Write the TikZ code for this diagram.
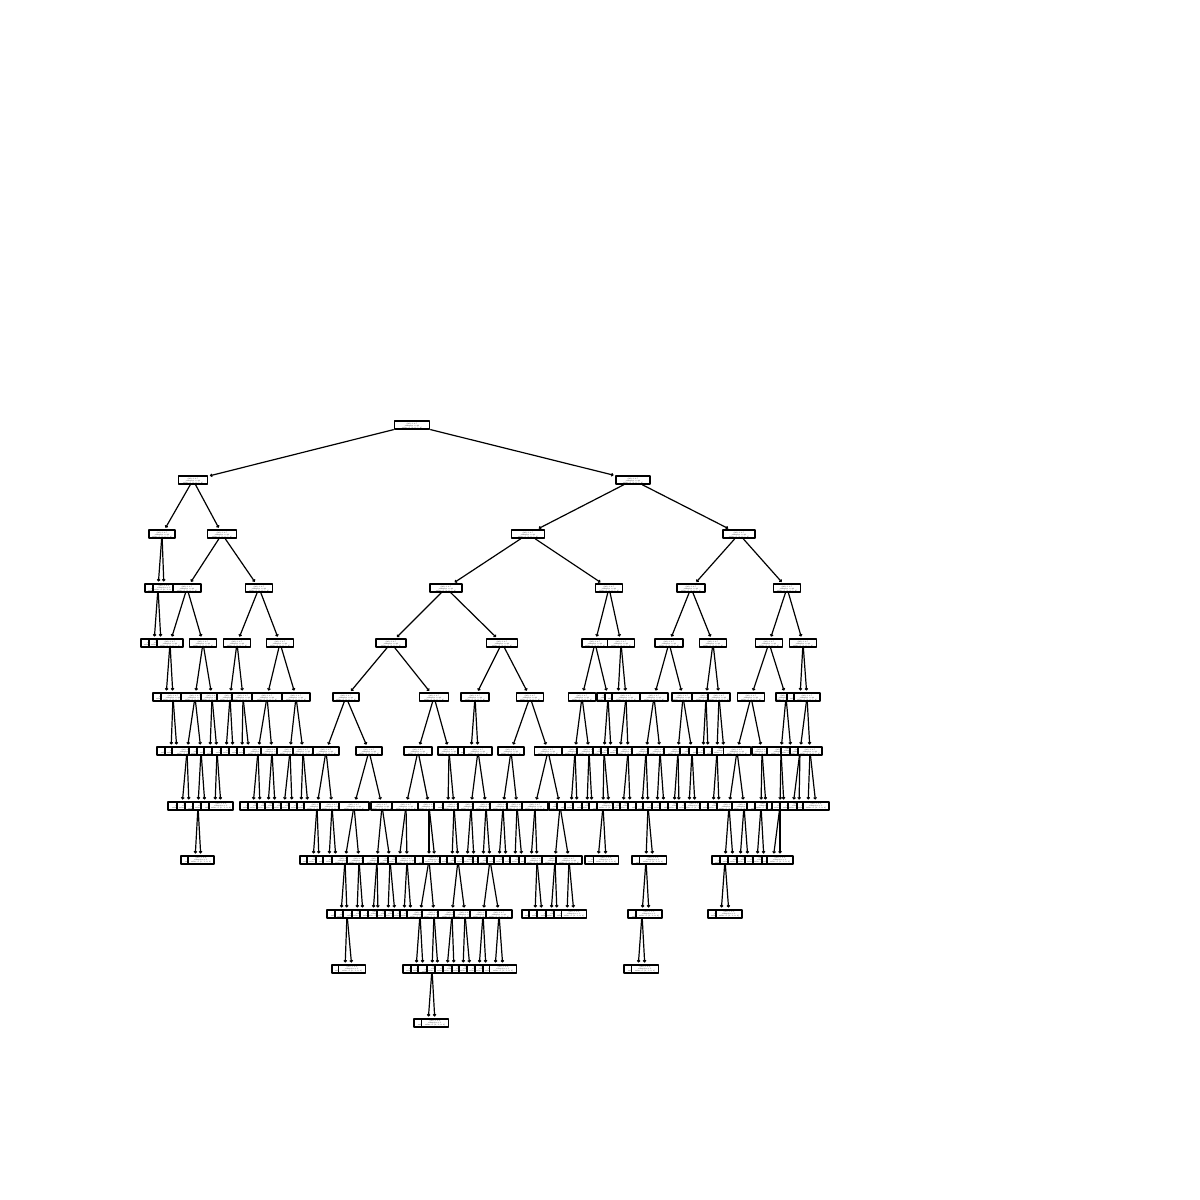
\documentclass[tikz,border=0pt]{standalone}
\usepackage{fontspec}
\usetikzlibrary{arrows.meta}
\newcommand{\splittxt}{X[2] <= 0.5\\gini = 0.5\\samples = 20\\value = [3, 0, 5, 2]}
\newcommand{\leaftxt}{gini = 0.0\\samples = 1\\value = [0, 1, 0, 0]}
\tikzset{
  tbox/.style={draw, fill=white, line width=0.75bp, inner sep=0pt, minimum height=4bp,
    minimum width=#1*0.5bp, align=center, font=\fontsize{0.9}{0.98}\selectfont},
  tbox/.default=26,
}
\begin{document}
\begin{tikzpicture}[x=0.5bp,y=-0.5bp,>={Straight Barb[length=0.7bp,width=1.4bp]},line width=0.6bp,shorten >=0.8bp,line join=bevel]
\useasboundingbox (0,0) rectangle (1200,1200);
%%
\node (node_0) at (412,425) [tbox=35] {\splittxt};
  \node (node_1) at (193,480) [tbox=29] {\splittxt};
  \node (node_2) at (162,534) [tbox=26] {\splittxt};
  \node (node_3) at (158,588) [tbox=26] {\splittxt};
  \node (node_4) at (154,643) [tbox=26] {\leaftxt};
  \node (node_5) at (161,643) [tbox=24] {\leaftxt};
  \node (node_6) at (164,588) [tbox=22] {\leaftxt};
  \node (node_7) at (222,534) [tbox=29] {\splittxt};
  \node (node_8) at (187,588) [tbox=28] {\splittxt};
  \node (node_9) at (170,643) [tbox=26] {\splittxt};
  \node (node_10) at (166,697) [tbox=26] {\leaftxt};
  \node (node_11) at (173,697) [tbox=24] {\splittxt};
  \node (node_12) at (171,751) [tbox=28] {\leaftxt};
  \node (node_13) at (177,751) [tbox=24] {\leaftxt};
  \node (node_14) at (203,643) [tbox=27] {\splittxt};
  \node (node_15) at (195,697) [tbox=28] {\splittxt};
  \node (node_16) at (187,751) [tbox=30] {\splittxt};
  \node (node_17) at (182,806) [tbox=28] {\leaftxt};
  \node (node_18) at (189,806) [tbox=24] {\leaftxt};
  \node (node_19) at (201,751) [tbox=24] {\splittxt};
  \node (node_20) at (198,806) [tbox=26] {\splittxt};
  \node (node_21) at (195,860) [tbox=28] {\leaftxt};
  \node (node_22) at (201,860) [tbox=26] {\leaftxt};
  \node (node_23) at (205,806) [tbox=24] {\leaftxt};
  \node (node_24) at (212,697) [tbox=22] {\splittxt};
  \node (node_25) at (210,751) [tbox=26] {\leaftxt};
  \node (node_26) at (217,751) [tbox=26] {\splittxt};
  \node (node_27) at (215,806) [tbox=28] {\leaftxt};
  \node (node_28) at (221,806) [tbox=24] {\leaftxt};
  \node (node_29) at (259,588) [tbox=27] {\splittxt};
  \node (node_30) at (237,643) [tbox=27] {\splittxt};
  \node (node_31) at (230,697) [tbox=26] {\splittxt};
  \node (node_32) at (226,751) [tbox=28] {\leaftxt};
  \node (node_33) at (233,751) [tbox=24] {\leaftxt};
  \node (node_34) at (243,697) [tbox=22] {\splittxt};
  \node (node_35) at (242,751) [tbox=26] {\leaftxt};
  \node (node_36) at (249,751) [tbox=24] {\leaftxt};
  \node (node_37) at (280,643) [tbox=27] {\splittxt};
  \node (node_38) at (267,697) [tbox=30] {\splittxt};
  \node (node_39) at (258,751) [tbox=28] {\splittxt};
  \node (node_40) at (253,806) [tbox=26] {\leaftxt};
  \node (node_41) at (260,806) [tbox=24] {\leaftxt};
  \node (node_42) at (272,751) [tbox=22] {\splittxt};
  \node (node_43) at (268,806) [tbox=22] {\leaftxt};
  \node (node_44) at (275,806) [tbox=20] {\leaftxt};
  \node (node_45) at (296,697) [tbox=28] {\splittxt};
  \node (node_46) at (290,751) [tbox=26] {\splittxt};
  \node (node_47) at (284,806) [tbox=22] {\leaftxt};
  \node (node_48) at (292,806) [tbox=22] {\leaftxt};
  \node (node_49) at (303,751) [tbox=20] {\splittxt};
  \node (node_50) at (301,806) [tbox=24] {\leaftxt};
  \node (node_51) at (308,806) [tbox=22] {\leaftxt};
  \node (node_52) at (633,480) [tbox=34] {\splittxt};
  \node (node_53) at (528,534) [tbox=33] {\splittxt};
  \node (node_54) at (446,588) [tbox=32] {\splittxt};
  \node (node_55) at (391,643) [tbox=30] {\splittxt};
  \node (node_56) at (346,697) [tbox=26] {\splittxt};
  \node (node_57) at (326,751) [tbox=26] {\splittxt};
  \node (node_58) at (317,806) [tbox=26] {\splittxt};
  \node (node_59) at (313,860) [tbox=26] {\leaftxt};
  \node (node_60) at (319,860) [tbox=24] {\leaftxt};
  \node (node_61) at (332,806) [tbox=24] {\splittxt};
  \node (node_62) at (329,860) [tbox=26] {\leaftxt};
  \node (node_63) at (336,860) [tbox=26] {\leaftxt};
  \node (node_64) at (369,751) [tbox=26] {\splittxt};
  \node (node_65) at (354,806) [tbox=30] {\splittxt};
  \node (node_66) at (345,860) [tbox=26] {\splittxt};
  \node (node_67) at (341,914) [tbox=28] {\leaftxt};
  \node (node_68) at (347,914) [tbox=24] {\splittxt};
  \node (node_69) at (345,969) [tbox=26] {\leaftxt};
  \node (node_70) at (352,969) [tbox=27] {\leaftxt};
  \node (node_71) at (359,860) [tbox=24] {\splittxt};
  \node (node_72) at (357,914) [tbox=28] {\leaftxt};
  \node (node_73) at (363,914) [tbox=22] {\leaftxt};
  \node (node_74) at (382,806) [tbox=22] {\splittxt};
  \node (node_75) at (377,860) [tbox=28] {\splittxt};
  \node (node_76) at (373,914) [tbox=26] {\leaftxt};
  \node (node_77) at (378,914) [tbox=20] {\leaftxt};
  \node (node_78) at (390,860) [tbox=24] {\splittxt};
  \node (node_79) at (388,914) [tbox=22] {\leaftxt};
  \node (node_80) at (395,914) [tbox=20] {\leaftxt};
  \node (node_81) at (434,697) [tbox=29] {\splittxt};
  \node (node_82) at (418,751) [tbox=28] {\splittxt};
  \node (node_83) at (406,806) [tbox=28] {\splittxt};
  \node (node_84) at (399,860) [tbox=22] {\leaftxt};
  \node (node_85) at (407,860) [tbox=22] {\splittxt};
  \node (node_86) at (404,914) [tbox=22] {\leaftxt};
  \node (node_87) at (411,914) [tbox=22] {\leaftxt};
  \node (node_88) at (429,806) [tbox=22] {\splittxt};
  \node (node_89) at (429,860) [tbox=28] {\splittxt};
  \node (node_90) at (420,914) [tbox=26] {\splittxt};
  \node (node_91) at (416,969) [tbox=26] {\leaftxt};
  \node (node_92) at (423,969) [tbox=24] {\leaftxt};
  \node (node_93) at (434,914) [tbox=24] {\splittxt};
  \node (node_94) at (432,969) [tbox=28] {\splittxt};
  \node (node_95) at (428,1023) [tbox=28] {\leaftxt};
  \node (node_96) at (435,1023) [tbox=27] {\leaftxt};
  \node (node_97) at (438,969) [tbox=22] {\leaftxt};
  \node (node_98) at (435,860) [tbox=24] {\leaftxt};
  \node (node_99) at (449,751) [tbox=22] {\splittxt};
  \node (node_100) at (448,806) [tbox=28] {\leaftxt};
  \node (node_101) at (454,806) [tbox=22] {\splittxt};
  \node (node_102) at (452,860) [tbox=24] {\leaftxt};
  \node (node_103) at (458,860) [tbox=22] {\splittxt};
  \node (node_104) at (452,914) [tbox=28] {\splittxt};
  \node (node_105) at (447,969) [tbox=24] {\leaftxt};
  \node (node_106) at (454,969) [tbox=22] {\leaftxt};
  \node (node_107) at (465,914) [tbox=22] {\splittxt};
  \node (node_108) at (463,969) [tbox=22] {\leaftxt};
  \node (node_109) at (470,969) [tbox=22] {\leaftxt};
  \node (node_110) at (502,643) [tbox=31] {\splittxt};
  \node (node_111) at (475,697) [tbox=28] {\splittxt};
  \node (node_112) at (471,751) [tbox=26] {\leaftxt};
  \node (node_113) at (478,751) [tbox=28] {\splittxt};
  \node (node_114) at (471,806) [tbox=26] {\splittxt};
  \node (node_115) at (467,860) [tbox=24] {\leaftxt};
  \node (node_116) at (474,860) [tbox=22] {\leaftxt};
  \node (node_117) at (486,806) [tbox=26] {\splittxt};
  \node (node_118) at (483,860) [tbox=20] {\leaftxt};
  \node (node_119) at (490,860) [tbox=24] {\splittxt};
  \node (node_120) at (483,914) [tbox=26] {\splittxt};
  \node (node_121) at (479,969) [tbox=24] {\leaftxt};
  \node (node_122) at (486,969) [tbox=22] {\leaftxt};
  \node (node_123) at (499,914) [tbox=26] {\splittxt};
  \node (node_124) at (495,969) [tbox=24] {\leaftxt};
  \node (node_125) at (503,969) [tbox=27] {\leaftxt};
  \node (node_126) at (530,697) [tbox=27] {\splittxt};
  \node (node_127) at (511,751) [tbox=26] {\splittxt};
  \node (node_128) at (503,806) [tbox=26] {\splittxt};
  \node (node_129) at (499,860) [tbox=24] {\leaftxt};
  \node (node_130) at (506,860) [tbox=24] {\leaftxt};
  \node (node_131) at (517,806) [tbox=20] {\splittxt};
  \node (node_132) at (515,860) [tbox=24] {\leaftxt};
  \node (node_133) at (522,860) [tbox=24] {\leaftxt};
  \node (node_134) at (548,751) [tbox=27] {\splittxt};
  \node (node_135) at (535,806) [tbox=26] {\splittxt};
  \node (node_136) at (531,860) [tbox=24] {\leaftxt};
  \node (node_137) at (537,860) [tbox=24] {\splittxt};
  \node (node_138) at (535,914) [tbox=26] {\leaftxt};
  \node (node_139) at (542,914) [tbox=26] {\leaftxt};
  \node (node_140) at (560,806) [tbox=22] {\splittxt};
  \node (node_141) at (555,860) [tbox=26] {\splittxt};
  \node (node_142) at (551,914) [tbox=28] {\leaftxt};
  \node (node_143) at (557,914) [tbox=22] {\leaftxt};
  \node (node_144) at (569,860) [tbox=26] {\splittxt};
  \node (node_145) at (567,914) [tbox=26] {\leaftxt};
  \node (node_146) at (574,914) [tbox=25] {\leaftxt};
  \node (node_147) at (609,588) [tbox=27] {\splittxt};
  \node (node_148) at (595,643) [tbox=26] {\splittxt};
  \node (node_149) at (582,697) [tbox=27] {\splittxt};
  \node (node_150) at (575,751) [tbox=26] {\splittxt};
  \node (node_151) at (571,806) [tbox=28] {\leaftxt};
  \node (node_152) at (577,806) [tbox=24] {\leaftxt};
  \node (node_153) at (589,751) [tbox=24] {\splittxt};
  \node (node_154) at (587,806) [tbox=28] {\leaftxt};
  \node (node_155) at (592,806) [tbox=20] {\leaftxt};
  \node (node_156) at (608,697) [tbox=22] {\splittxt};
  \node (node_157) at (604,751) [tbox=22] {\splittxt};
  \node (node_158) at (603,806) [tbox=28] {\splittxt};
  \node (node_159) at (598,860) [tbox=26] {\leaftxt};
  \node (node_160) at (606,860) [tbox=25] {\leaftxt};
  \node (node_161) at (609,806) [tbox=24] {\leaftxt};
  \node (node_162) at (611,751) [tbox=18] {\leaftxt};
  \node (node_163) at (621,643) [tbox=27] {\splittxt};
  \node (node_164) at (618,697) [tbox=26] {\leaftxt};
  \node (node_165) at (626,697) [tbox=28] {\splittxt};
  \node (node_166) at (620,751) [tbox=24] {\leaftxt};
  \node (node_167) at (628,751) [tbox=22] {\splittxt};
  \node (node_168) at (623,806) [tbox=20] {\leaftxt};
  \node (node_169) at (630,806) [tbox=20] {\leaftxt};
  \node (node_170) at (739,534) [tbox=32] {\splittxt};
  \node (node_171) at (691,588) [tbox=28] {\splittxt};
  \node (node_172) at (669,643) [tbox=28] {\splittxt};
  \node (node_173) at (654,697) [tbox=28] {\splittxt};
  \node (node_174) at (646,751) [tbox=28] {\splittxt};
  \node (node_175) at (642,806) [tbox=28] {\leaftxt};
  \node (node_176) at (648,806) [tbox=24] {\splittxt};
  \node (node_177) at (646,860) [tbox=28] {\splittxt};
  \node (node_178) at (642,914) [tbox=28] {\splittxt};
  \node (node_179) at (638,969) [tbox=28] {\leaftxt};
  \node (node_180) at (645,969) [tbox=27] {\leaftxt};
  \node (node_181) at (649,914) [tbox=26] {\leaftxt};
  \node (node_182) at (653,860) [tbox=27] {\leaftxt};
  \node (node_183) at (660,751) [tbox=24] {\splittxt};
  \node (node_184) at (657,806) [tbox=28] {\leaftxt};
  \node (node_185) at (664,806) [tbox=24] {\leaftxt};
  \node (node_186) at (683,697) [tbox=22] {\splittxt};
  \node (node_187) at (678,751) [tbox=28] {\splittxt};
  \node (node_188) at (674,806) [tbox=28] {\leaftxt};
  \node (node_189) at (679,806) [tbox=22] {\leaftxt};
  \node (node_190) at (692,751) [tbox=24] {\splittxt};
  \node (node_191) at (689,806) [tbox=24] {\leaftxt};
  \node (node_192) at (695,806) [tbox=20] {\leaftxt};
  \node (node_193) at (713,643) [tbox=27] {\splittxt};
  \node (node_194) at (706,697) [tbox=28] {\splittxt};
  \node (node_195) at (703,751) [tbox=28] {\leaftxt};
  \node (node_196) at (708,751) [tbox=22] {\leaftxt};
  \node (node_197) at (719,697) [tbox=22] {\splittxt};
  \node (node_198) at (717,751) [tbox=26] {\splittxt};
  \node (node_199) at (713,806) [tbox=26] {\leaftxt};
  \node (node_200) at (719,806) [tbox=22] {\leaftxt};
  \node (node_201) at (724,751) [tbox=24] {\leaftxt};
  \node (node_202) at (787,588) [tbox=27] {\splittxt};
  \node (node_203) at (769,643) [tbox=27] {\splittxt};
  \node (node_204) at (751,697) [tbox=27] {\splittxt};
  \node (node_205) at (737,751) [tbox=27] {\splittxt};
  \node (node_206) at (729,806) [tbox=24] {\splittxt};
  \node (node_207) at (725,860) [tbox=26] {\splittxt};
  \node (node_208) at (721,914) [tbox=26] {\leaftxt};
  \node (node_209) at (729,914) [tbox=26] {\leaftxt};
  \node (node_210) at (733,860) [tbox=26] {\leaftxt};
  \node (node_211) at (744,806) [tbox=24] {\splittxt};
  \node (node_212) at (740,860) [tbox=24] {\leaftxt};
  \node (node_213) at (748,860) [tbox=22] {\leaftxt};
  \node (node_214) at (762,751) [tbox=20] {\splittxt};
  \node (node_215) at (761,806) [tbox=28] {\splittxt};
  \node (node_216) at (757,860) [tbox=24] {\leaftxt};
  \node (node_217) at (764,860) [tbox=22] {\leaftxt};
  \node (node_218) at (766,806) [tbox=22] {\leaftxt};
  \node (node_219) at (786,697) [tbox=20] {\splittxt};
  \node (node_220) at (781,751) [tbox=28] {\splittxt};
  \node (node_221) at (780,806) [tbox=26] {\splittxt};
  \node (node_222) at (773,860) [tbox=22] {\leaftxt};
  \node (node_223) at (780,860) [tbox=26] {\leaftxt};
  \node (node_224) at (784,806) [tbox=24] {\leaftxt};
  \node (node_225) at (791,751) [tbox=16] {\leaftxt};
  \node (node_226) at (803,643) [tbox=27] {\splittxt};
  \node (node_227) at (800,697) [tbox=26] {\leaftxt};
  \node (node_228) at (807,697) [tbox=26] {\splittxt};
  \node (node_229) at (800,751) [tbox=18] {\splittxt};
  \node (node_230) at (793,806) [tbox=26] {\leaftxt};
  \node (node_231) at (799,806) [tbox=22] {\leaftxt};
  \node (node_232) at (810,751) [tbox=24] {\splittxt};
  \node (node_233) at (808,806) [tbox=22] {\leaftxt};
  \node (node_234) at (816,806) [tbox=26] {\leaftxt};
%
  \draw [black,->] (node_0) -- (node_1);
  \draw [black,->] (node_1) -- (node_2);
  \draw [black,->] (node_2) -- (node_3);
  \draw [black,->] (node_3) -- (node_4);
  \draw [black,->] (node_3) -- (node_5);
  \draw [black,->] (node_2) -- (node_6);
  \draw [black,->] (node_1) -- (node_7);
  \draw [black,->] (node_7) -- (node_8);
  \draw [black,->] (node_8) -- (node_9);
  \draw [black,->] (node_9) -- (node_10);
  \draw [black,->] (node_9) -- (node_11);
  \draw [black,->] (node_11) -- (node_12);
  \draw [black,->] (node_11) -- (node_13);
  \draw [black,->] (node_8) -- (node_14);
  \draw [black,->] (node_14) -- (node_15);
  \draw [black,->] (node_15) -- (node_16);
  \draw [black,->] (node_16) -- (node_17);
  \draw [black,->] (node_16) -- (node_18);
  \draw [black,->] (node_15) -- (node_19);
  \draw [black,->] (node_19) -- (node_20);
  \draw [black,->] (node_20) -- (node_21);
  \draw [black,->] (node_20) -- (node_22);
  \draw [black,->] (node_19) -- (node_23);
  \draw [black,->] (node_14) -- (node_24);
  \draw [black,->] (node_24) -- (node_25);
  \draw [black,->] (node_24) -- (node_26);
  \draw [black,->] (node_26) -- (node_27);
  \draw [black,->] (node_26) -- (node_28);
  \draw [black,->] (node_7) -- (node_29);
  \draw [black,->] (node_29) -- (node_30);
  \draw [black,->] (node_30) -- (node_31);
  \draw [black,->] (node_31) -- (node_32);
  \draw [black,->] (node_31) -- (node_33);
  \draw [black,->] (node_30) -- (node_34);
  \draw [black,->] (node_34) -- (node_35);
  \draw [black,->] (node_34) -- (node_36);
  \draw [black,->] (node_29) -- (node_37);
  \draw [black,->] (node_37) -- (node_38);
  \draw [black,->] (node_38) -- (node_39);
  \draw [black,->] (node_39) -- (node_40);
  \draw [black,->] (node_39) -- (node_41);
  \draw [black,->] (node_38) -- (node_42);
  \draw [black,->] (node_42) -- (node_43);
  \draw [black,->] (node_42) -- (node_44);
  \draw [black,->] (node_37) -- (node_45);
  \draw [black,->] (node_45) -- (node_46);
  \draw [black,->] (node_46) -- (node_47);
  \draw [black,->] (node_46) -- (node_48);
  \draw [black,->] (node_45) -- (node_49);
  \draw [black,->] (node_49) -- (node_50);
  \draw [black,->] (node_49) -- (node_51);
  \draw [black,->] (node_0) -- (node_52);
  \draw [black,->] (node_52) -- (node_53);
  \draw [black,->] (node_53) -- (node_54);
  \draw [black,->] (node_54) -- (node_55);
  \draw [black,->] (node_55) -- (node_56);
  \draw [black,->] (node_56) -- (node_57);
  \draw [black,->] (node_57) -- (node_58);
  \draw [black,->] (node_58) -- (node_59);
  \draw [black,->] (node_58) -- (node_60);
  \draw [black,->] (node_57) -- (node_61);
  \draw [black,->] (node_61) -- (node_62);
  \draw [black,->] (node_61) -- (node_63);
  \draw [black,->] (node_56) -- (node_64);
  \draw [black,->] (node_64) -- (node_65);
  \draw [black,->] (node_65) -- (node_66);
  \draw [black,->] (node_66) -- (node_67);
  \draw [black,->] (node_66) -- (node_68);
  \draw [black,->] (node_68) -- (node_69);
  \draw [black,->] (node_68) -- (node_70);
  \draw [black,->] (node_65) -- (node_71);
  \draw [black,->] (node_71) -- (node_72);
  \draw [black,->] (node_71) -- (node_73);
  \draw [black,->] (node_64) -- (node_74);
  \draw [black,->] (node_74) -- (node_75);
  \draw [black,->] (node_75) -- (node_76);
  \draw [black,->] (node_75) -- (node_77);
  \draw [black,->] (node_74) -- (node_78);
  \draw [black,->] (node_78) -- (node_79);
  \draw [black,->] (node_78) -- (node_80);
  \draw [black,->] (node_55) -- (node_81);
  \draw [black,->] (node_81) -- (node_82);
  \draw [black,->] (node_82) -- (node_83);
  \draw [black,->] (node_83) -- (node_84);
  \draw [black,->] (node_83) -- (node_85);
  \draw [black,->] (node_85) -- (node_86);
  \draw [black,->] (node_85) -- (node_87);
  \draw [black,->] (node_82) -- (node_88);
  \draw [black,->] (node_88) -- (node_89);
  \draw [black,->] (node_89) -- (node_90);
  \draw [black,->] (node_90) -- (node_91);
  \draw [black,->] (node_90) -- (node_92);
  \draw [black,->] (node_89) -- (node_93);
  \draw [black,->] (node_93) -- (node_94);
  \draw [black,->] (node_94) -- (node_95);
  \draw [black,->] (node_94) -- (node_96);
  \draw [black,->] (node_93) -- (node_97);
  \draw [black,->] (node_88) -- (node_98);
  \draw [black,->] (node_81) -- (node_99);
  \draw [black,->] (node_99) -- (node_100);
  \draw [black,->] (node_99) -- (node_101);
  \draw [black,->] (node_101) -- (node_102);
  \draw [black,->] (node_101) -- (node_103);
  \draw [black,->] (node_103) -- (node_104);
  \draw [black,->] (node_104) -- (node_105);
  \draw [black,->] (node_104) -- (node_106);
  \draw [black,->] (node_103) -- (node_107);
  \draw [black,->] (node_107) -- (node_108);
  \draw [black,->] (node_107) -- (node_109);
  \draw [black,->] (node_54) -- (node_110);
  \draw [black,->] (node_110) -- (node_111);
  \draw [black,->] (node_111) -- (node_112);
  \draw [black,->] (node_111) -- (node_113);
  \draw [black,->] (node_113) -- (node_114);
  \draw [black,->] (node_114) -- (node_115);
  \draw [black,->] (node_114) -- (node_116);
  \draw [black,->] (node_113) -- (node_117);
  \draw [black,->] (node_117) -- (node_118);
  \draw [black,->] (node_117) -- (node_119);
  \draw [black,->] (node_119) -- (node_120);
  \draw [black,->] (node_120) -- (node_121);
  \draw [black,->] (node_120) -- (node_122);
  \draw [black,->] (node_119) -- (node_123);
  \draw [black,->] (node_123) -- (node_124);
  \draw [black,->] (node_123) -- (node_125);
  \draw [black,->] (node_110) -- (node_126);
  \draw [black,->] (node_126) -- (node_127);
  \draw [black,->] (node_127) -- (node_128);
  \draw [black,->] (node_128) -- (node_129);
  \draw [black,->] (node_128) -- (node_130);
  \draw [black,->] (node_127) -- (node_131);
  \draw [black,->] (node_131) -- (node_132);
  \draw [black,->] (node_131) -- (node_133);
  \draw [black,->] (node_126) -- (node_134);
  \draw [black,->] (node_134) -- (node_135);
  \draw [black,->] (node_135) -- (node_136);
  \draw [black,->] (node_135) -- (node_137);
  \draw [black,->] (node_137) -- (node_138);
  \draw [black,->] (node_137) -- (node_139);
  \draw [black,->] (node_134) -- (node_140);
  \draw [black,->] (node_140) -- (node_141);
  \draw [black,->] (node_141) -- (node_142);
  \draw [black,->] (node_141) -- (node_143);
  \draw [black,->] (node_140) -- (node_144);
  \draw [black,->] (node_144) -- (node_145);
  \draw [black,->] (node_144) -- (node_146);
  \draw [black,->] (node_53) -- (node_147);
  \draw [black,->] (node_147) -- (node_148);
  \draw [black,->] (node_148) -- (node_149);
  \draw [black,->] (node_149) -- (node_150);
  \draw [black,->] (node_150) -- (node_151);
  \draw [black,->] (node_150) -- (node_152);
  \draw [black,->] (node_149) -- (node_153);
  \draw [black,->] (node_153) -- (node_154);
  \draw [black,->] (node_153) -- (node_155);
  \draw [black,->] (node_148) -- (node_156);
  \draw [black,->] (node_156) -- (node_157);
  \draw [black,->] (node_157) -- (node_158);
  \draw [black,->] (node_158) -- (node_159);
  \draw [black,->] (node_158) -- (node_160);
  \draw [black,->] (node_157) -- (node_161);
  \draw [black,->] (node_156) -- (node_162);
  \draw [black,->] (node_147) -- (node_163);
  \draw [black,->] (node_163) -- (node_164);
  \draw [black,->] (node_163) -- (node_165);
  \draw [black,->] (node_165) -- (node_166);
  \draw [black,->] (node_165) -- (node_167);
  \draw [black,->] (node_167) -- (node_168);
  \draw [black,->] (node_167) -- (node_169);
  \draw [black,->] (node_52) -- (node_170);
  \draw [black,->] (node_170) -- (node_171);
  \draw [black,->] (node_171) -- (node_172);
  \draw [black,->] (node_172) -- (node_173);
  \draw [black,->] (node_173) -- (node_174);
  \draw [black,->] (node_174) -- (node_175);
  \draw [black,->] (node_174) -- (node_176);
  \draw [black,->] (node_176) -- (node_177);
  \draw [black,->] (node_177) -- (node_178);
  \draw [black,->] (node_178) -- (node_179);
  \draw [black,->] (node_178) -- (node_180);
  \draw [black,->] (node_177) -- (node_181);
  \draw [black,->] (node_176) -- (node_182);
  \draw [black,->] (node_173) -- (node_183);
  \draw [black,->] (node_183) -- (node_184);
  \draw [black,->] (node_183) -- (node_185);
  \draw [black,->] (node_172) -- (node_186);
  \draw [black,->] (node_186) -- (node_187);
  \draw [black,->] (node_187) -- (node_188);
  \draw [black,->] (node_187) -- (node_189);
  \draw [black,->] (node_186) -- (node_190);
  \draw [black,->] (node_190) -- (node_191);
  \draw [black,->] (node_190) -- (node_192);
  \draw [black,->] (node_171) -- (node_193);
  \draw [black,->] (node_193) -- (node_194);
  \draw [black,->] (node_194) -- (node_195);
  \draw [black,->] (node_194) -- (node_196);
  \draw [black,->] (node_193) -- (node_197);
  \draw [black,->] (node_197) -- (node_198);
  \draw [black,->] (node_198) -- (node_199);
  \draw [black,->] (node_198) -- (node_200);
  \draw [black,->] (node_197) -- (node_201);
  \draw [black,->] (node_170) -- (node_202);
  \draw [black,->] (node_202) -- (node_203);
  \draw [black,->] (node_203) -- (node_204);
  \draw [black,->] (node_204) -- (node_205);
  \draw [black,->] (node_205) -- (node_206);
  \draw [black,->] (node_206) -- (node_207);
  \draw [black,->] (node_207) -- (node_208);
  \draw [black,->] (node_207) -- (node_209);
  \draw [black,->] (node_206) -- (node_210);
  \draw [black,->] (node_205) -- (node_211);
  \draw [black,->] (node_211) -- (node_212);
  \draw [black,->] (node_211) -- (node_213);
  \draw [black,->] (node_204) -- (node_214);
  \draw [black,->] (node_214) -- (node_215);
  \draw [black,->] (node_215) -- (node_216);
  \draw [black,->] (node_215) -- (node_217);
  \draw [black,->] (node_214) -- (node_218);
  \draw [black,->] (node_203) -- (node_219);
  \draw [black,->] (node_219) -- (node_220);
  \draw [black,->] (node_220) -- (node_221);
  \draw [black,->] (node_221) -- (node_222);
  \draw [black,->] (node_221) -- (node_223);
  \draw [black,->] (node_220) -- (node_224);
  \draw [black,->] (node_219) -- (node_225);
  \draw [black,->] (node_202) -- (node_226);
  \draw [black,->] (node_226) -- (node_227);
  \draw [black,->] (node_226) -- (node_228);
  \draw [black,->] (node_228) -- (node_229);
  \draw [black,->] (node_229) -- (node_230);
  \draw [black,->] (node_229) -- (node_231);
  \draw [black,->] (node_228) -- (node_232);
  \draw [black,->] (node_232) -- (node_233);
  \draw [black,->] (node_232) -- (node_234);
%
\end{tikzpicture}
\end{document}
